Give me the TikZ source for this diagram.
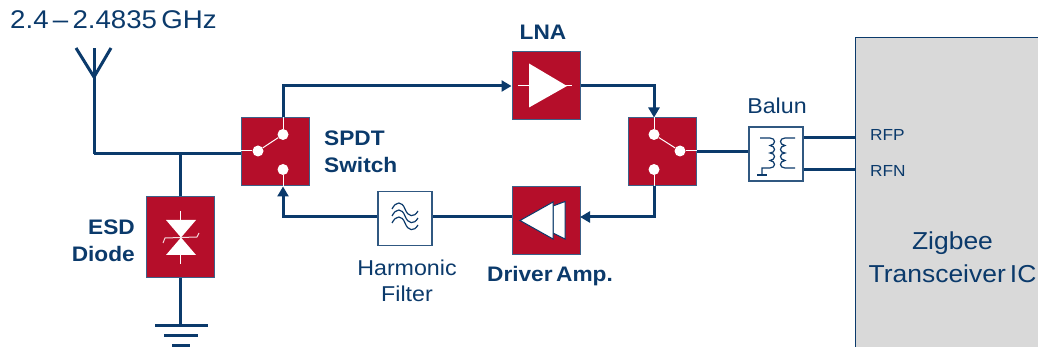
\documentclass[tikz,border=0pt]{standalone}
\usepackage{fontspec}
\usepackage{xcolor}
\setmainfont[FakeStretch=1.08]{Liberation Sans}
\usetikzlibrary{arrows.meta}
\definecolor{tinavy}{HTML}{0B3A6B}
\definecolor{tired}{HTML}{B50E2A}
\definecolor{icgray}{HTML}{D9D9D9}
\tikzset{
  wire/.style={draw=tinavy,line width=3pt},
  wiretip/.style={wire,-{Triangle[length=10pt,width=11pt]}},
  redbox/.style={draw=tinavy!80!white,line width=1pt,fill=tired,minimum width=68pt,minimum height=68pt,inner sep=0pt},
  whitebox/.style={draw=tinavy!85!white,line width=1.2pt,fill=white,minimum width=54pt,minimum height=54pt,inner sep=0pt},
  contact/.style={circle,fill=white,minimum size=11pt,inner sep=0pt},
  lead/.style={draw=white,line width=1pt},
  fine/.style={draw=tinavy,line width=1.2pt},
  lbl/.style={text=tinavy,inner sep=0pt,font=\fontsize{21.5}{26}\selectfont},
  boldlbl/.style={text=tinavy,inner sep=0pt,font=\fontsize{21}{27}\selectfont\bfseries}
}
\begin{document}
\begin{tikzpicture}[x=1pt,y=-1pt]
            \useasboundingbox (0,0) rectangle (1038,347);
            \node[fill=icgray,minimum width=182pt,minimum height=309pt,inner sep=0pt] (ic) at (947,192.5) {};
            \draw[fine] (ic.north east)--(ic.north west)--(ic.south west);
            \node[redbox] (swa) at (275.5,152) {};
            \node[redbox] (swb) at (662.5,152) {};
            \node[redbox] (lna) at (546,86) {};
            \node[redbox] (drv) at (546,220.5) {};
            \node[redbox,minimum height=80pt] (esd) at (180,237) {};
            \node[whitebox] (filt) at (405,218.5) {};
            \node[whitebox] (balun) at (776,154) {};
            \node[contact] (swatop) at (283,134.5) {};
            \node[contact] (swabot) at (283,169.5) {};
            \node[contact] (swapole) at (258,151) {};
            \node[contact] (swbtop) at (654,134.5) {};
            \node[contact] (swbbot) at (654,169.5) {};
            \node[contact] (swbpole) at (680,151) {};
            \coordinate (feed) at (94,154);
            \coordinate (anttop) at (94,48);
            \coordinate (antfoot) at (94,77);
            \coordinate (antl) at (76,48);
            \coordinate (antr) at (111,48);
            \coordinate (gnd) at (180,325);
            \coordinate (txrun) at (580,217);
            \coordinate (rfp) at (856,138);
            \coordinate (rfn) at (856,170);
            \draw[wire] (feed)--(anttop);
            \draw[wire] (antl)--(antfoot)--(antr);
            \draw[wire] (feed)--(feed -| swa.west);
            \draw[wire] (esd.north)--(esd.north |- feed);
            \draw[wire] (esd.south)--(gnd);
            \draw[wire] (155,325)--(208,325);
            \draw[wire] (164,335)--(198,335);
            \draw[wire] (172,345)--(190,345);
            \draw[wiretip] (swa.north -| swatop) |- (lna.west);
            \draw[wiretip] (lna.east) -| (swb.north -| swbtop);
            \draw[wiretip] (swb.south -| swbbot) |- (txrun);
            \draw[wire] (txrun -| drv.west)--(txrun -| filt.east);
            \draw[wiretip] (txrun -| filt.west) -| (swa.south -| swabot);
            \draw[wire] (swb.east)--(swb.east -| balun.west);
            \draw[wire] (balun.east |- rfp)--(rfp);
            \draw[wire] (balun.east |- rfn)--(rfn);
            \draw[lead] (swatop)--(swatop |- swa.north);
            \draw[lead] (swabot)--(swabot |- swa.south);
            \draw[lead] (swapole)--(swatop);
            \draw[lead] (swapole)--(swapole -| swa.west);
            \draw[lead] (swbtop)--(swbtop |- swb.north);
            \draw[lead] (swbbot)--(swbbot |- swb.south);
            \draw[lead] (swbpole)--(swbtop);
            \draw[lead] (swbpole)--(swbpole -| swb.east);
            \draw[lead] (518,86)--(572,86);
            \fill[white] (529,63.5)--(529,107.5)--(567,86)--cycle;
            \filldraw[draw=tinavy,line width=1pt,fill=white] (553,206)--(565,201.5)--(565,239)--(553,233)--cycle;
            \filldraw[draw=tinavy,line width=1pt,fill=white] (520,220.5)--(553,202)--(553,239)--cycle;
            \fill[white] (166,220)--(196,220)--(166,255)--(196,255)--cycle;
            \draw[lead] (180,211)--(180,264);
            \draw[lead,draw=white!85!tired] (163,243)--(165,238)--(197,237)--(199,233);
            \draw[fine] (392,209) .. controls (396,201) and (402,201) .. (405,209) .. controls (408,217) and (414,218) .. (418,211);
            \draw[fine] (392,216) .. controls (396,208) and (402,208) .. (405,216) .. controls (408,224) and (414,225) .. (418,218);
            \draw[fine] (392,223) .. controls (396,215) and (402,215) .. (405,223) .. controls (408,231) and (414,232) .. (418,225);
            \draw[fine] (760,138)--(770,138) .. controls (776,138) and (776,145) .. (770,145.5) .. controls (776,146) and (776,153) .. (770,153) .. controls (776,153) and (776,160) .. (770,160.5) .. controls (776,161) and (776,168) .. (770,168)--(762,168)--(762,175);
            \draw[fine] (757,175)--(767,175);
            \draw[fine] (795,138)--(785,138) .. controls (779,138) and (779,145) .. (785,145.5) .. controls (779,146) and (779,153) .. (785,153) .. controls (779,153) and (779,160) .. (785,160.5) .. controls (779,161) and (779,168) .. (785,168)--(795,168);
            \node[lbl,anchor=west,font=\fontsize{25.6}{30}\selectfont] (band) at (10,20) {2.4\,--\,2.4835\,GHz};
            \node[boldlbl] (lnatext) at (543,32) {LNA};
            \node[boldlbl,anchor=west,align=left] (swtext) at (324,151.5) {SPDT\\Switch};
            \node[boldlbl,anchor=east,align=right] (esdtext) at (135,240.5) {ESD\\Diode};
            \node[boldlbl] (drvtext) at (550,276) {Driver\,Amp.};
            \node[lbl,align=center] (filttext) at (407,281) {Harmonic\\Filter};
            \node[lbl] (baluntext) at (777,106) {Balun};
            \node[lbl,anchor=west,font=\fontsize{16}{20}\selectfont] (rfptext) at (870,135) {RFP};
            \node[lbl,anchor=west,font=\fontsize{16}{20}\selectfont] (rfntext) at (870,171) {RFN};
            \node[lbl,align=center,font=\fontsize{24.5}{33}\selectfont] (ictext) at (952.5,257.5) {Zigbee\\Transceiver\,IC};
            \end{tikzpicture}
\end{document}
